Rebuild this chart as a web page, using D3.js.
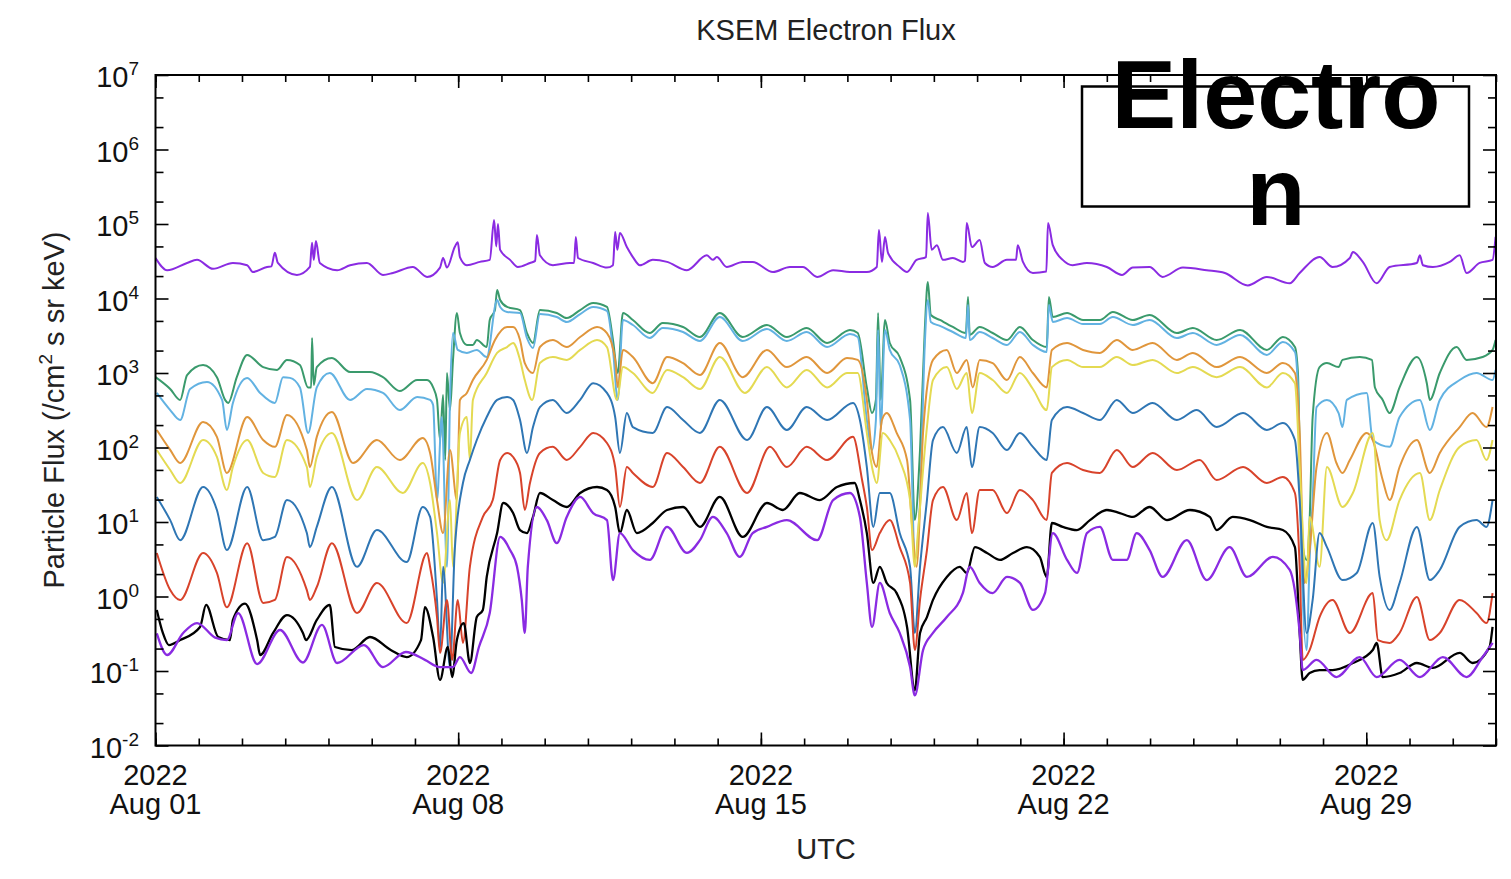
<!DOCTYPE html>
<html>
<head>
<meta charset="utf-8">
<script src="https://cdn.jsdelivr.net/npm/d3@7"></script>
<style>
  html, body { margin: 0; padding: 0; background: #fff; }
  svg { display: block; font-family: "Liberation Sans", Arial, Helvetica, sans-serif; }
</style>
</head>
<body>
<svg id="chart" width="1511" height="879"></svg>
<script>
// KSEM electron flux, August 2022. Each series: [days since 2022-08-01 00:00 UTC, flux]
const fluxCh1 = [[0,3.5e4],[0.27,2.4e4],[0.73,3.0e4],[0.96,3.3e4],[1.33,2.5e4],[1.79,3.0e4],[2.12,2.8e4],[2.25,2.27e4],[2.58,2.65e4],[2.68,2.7e4],[2.76,4.1e4],[2.83,3.0e4],[3.27,2.07e4],[3.57,2.65e4],[3.62,5.6e4],[3.66,3.3e4],[3.71,5.9e4],[3.80,3.0e4],[4.20,2.4e4],[4.50,2.8e4],[4.89,3.0e4],[5.26,2.07e4],[5.49,2.2e4],[5.95,2.65e4],[6.28,1.95e4],[6.58,2.6e4],[6.65,3.5e4],[6.74,2.6e4],[6.92,4.9e4],[6.99,5.7e4],[7.04,3.6e4],[7.20,2.8e4],[7.50,3.1e4],[7.73,3.3e4],[7.83,1.13e5],[7.88,5.0e4],[7.92,1.0e5],[7.97,4.5e4],[8.20,3.3e4],[8.38,2.65e4],[8.66,3.0e4],[8.78,3.2e4],[8.82,7.1e4],[8.89,3.8e4],[9.19,2.8e4],[9.58,3.0e4],[9.68,3.0e4],[9.72,6.7e4],[9.77,3.5e4],[10.12,3.0e4],[10.44,2.6e4],[10.58,2.8e4],[10.63,7.8e4],[10.68,4.5e4],[10.74,7.6e4],[10.90,4.9e4],[11.04,3.6e4],[11.20,2.8e4],[11.50,3.3e4],[11.83,3.1e4],[12.29,2.4e4],[12.75,3.8e4],[12.89,3.3e4],[12.98,3.6e4],[13.21,2.65e4],[13.58,3.1e4],[13.81,3.1e4],[14.28,2.27e4],[14.67,2.65e4],[14.97,2.65e4],[15.30,1.95e4],[15.67,2.4e4],[16.06,2.27e4],[16.45,2.27e4],[16.68,2.65e4],[16.73,8.3e4],[16.80,3.1e4],[16.87,6.7e4],[16.94,4.1e4],[17.21,2.65e4],[17.38,2.27e4],[17.60,3.3e4],[17.82,3.6e4],[17.86,1.4e5],[17.95,4.5e4],[18.07,5.2e4],[18.21,3.3e4],[18.44,3.5e4],[18.67,3.1e4],[18.72,3.2e4],[18.76,1.03e5],[18.88,4.9e4],[19.06,6.1e4],[19.18,3.0e4],[19.36,2.65e4],[19.69,3.3e4],[19.90,3.3e4],[19.94,5.2e4],[20.06,3.1e4],[20.29,2.2e4],[20.60,2.3e4],[20.64,1.03e5],[20.75,5.2e4],[20.98,3.3e4],[21.21,2.8e4],[21.54,3.0e4],[22.00,2.65e4],[22.35,2.07e4],[22.60,2.6e4],[22.99,2.65e4],[23.29,1.95e4],[23.76,2.6e4],[24.31,2.4e4],[24.73,2.2e4],[25.26,1.5e4],[25.70,1.95e4],[26.23,1.6e4],[26.46,2.2e4],[26.92,3.6e4],[27.22,2.65e4],[27.62,3.5e4],[27.69,4.2e4],[27.92,3.1e4],[28.24,1.6e4],[28.54,2.65e4],[29.17,3.0e4],[29.24,3.8e4],[29.31,2.8e4],[29.54,2.65e4],[29.93,3.1e4],[30.16,3.8e4],[30.32,2.2e4],[30.62,3.0e4],[30.92,3.3e4],[30.99,6.7e4]];

const fluxCh2 = [[0,880],[0.34,610],[0.57,435],[0.73,940],[1.10,1280],[1.42,880],[1.61,435],[1.68,396],[1.88,880],[2.12,1750],[2.49,1200],[2.81,1100],[3.04,1500],[3.34,1280],[3.53,640],[3.60,640],[3.62,2950],[3.66,690],[3.73,1200],[4.08,1590],[4.50,1030],[4.96,1030],[5.26,880],[5.65,573],[6.05,805],[6.28,805],[6.42,640],[6.51,435],[6.58,126],[6.65,506],[6.70,68],[6.74,1000],[6.81,318],[6.88,1500],[6.97,6400],[7.04,3440],[7.20,2380],[7.34,2380],[7.43,2770],[7.66,2230],[7.73,5150],[7.85,7000],[7.90,1.3e4],[7.97,9560],[8.13,7700],[8.43,7000],[8.59,3440],[8.73,2530],[8.89,7000],[9.28,6400],[9.51,5470],[9.82,7000],[10.12,8700],[10.44,7700],[10.58,2770],[10.69,1000],[10.81,6400],[11.04,5150],[11.43,3440],[11.73,4690],[12.20,4150],[12.59,3040],[13.05,6400],[13.58,3040],[14.14,4410],[14.60,3040],[15.06,4020],[15.53,2530],[16.06,3780],[16.24,3440],[16.45,640],[16.57,290],[16.66,435],[16.71,6400],[16.77,435],[16.87,5150],[16.98,2530],[17.21,1640],[17.45,435],[17.56,10.6],[17.68,92.7],[17.79,3780],[17.86,1.66e4],[17.93,6000],[18.14,5150],[18.44,4150],[18.74,3440],[18.79,1.05e4],[18.83,3240],[19.06,4150],[19.36,3440],[19.69,2770],[19.99,4150],[20.29,2770],[20.61,2230],[20.66,1.05e4],[20.75,5640],[21.08,6400],[21.45,5150],[21.84,5150],[22.14,6600],[22.60,5150],[22.99,6000],[23.62,3440],[23.99,4020],[24.54,2770],[25.08,3780],[25.70,2040],[26.07,3040],[26.35,2230],[26.42,1000],[26.50,7.1],[26.62,3.1],[26.69,10.6],[26.76,257],[26.92,1200],[27.09,1360],[27.36,1200],[27.45,1500],[27.85,1640],[28.13,1500],[28.20,640],[28.38,435],[28.54,290],[28.77,640],[29.17,1640],[29.40,730],[29.47,435],[29.70,1000],[30.09,2230],[30.32,1500],[30.69,1640],[30.92,2040],[30.99,2770]];

const fluxCh3 = [[0.03,540],[0.34,318],[0.57,234],[0.80,610],[1.19,760],[1.54,435],[1.65,172],[1.79,396],[2.12,860],[2.42,540],[2.76,396],[2.95,880],[3.11,860],[3.34,640],[3.53,157],[3.73,640],[4.03,1000],[4.50,435],[4.89,610],[5.26,540],[5.65,318],[6.05,477],[6.35,435],[6.42,372],[6.51,19.7],[6.62,257],[6.74,2.5],[6.81,435],[6.88,3440],[6.99,2040],[7.20,1860],[7.43,2040],[7.66,1640],[7.90,9560],[7.97,7700],[8.13,6600],[8.43,6400],[8.59,2950],[8.73,2170],[8.89,6190],[9.28,5640],[9.51,4840],[9.82,6190],[10.12,7700],[10.44,6800],[10.58,2040],[10.69,435],[10.81,5150],[11.04,4410],[11.43,2950],[11.73,4020],[12.20,3550],[12.59,2690],[13.05,5640],[13.58,2690],[14.14,3900],[14.60,2690],[15.06,3550],[15.53,2230],[16.06,3340],[16.24,3040],[16.45,234],[16.57,92.7],[16.66,234],[16.71,3780],[16.77,172],[16.87,3780],[16.98,2040],[17.21,1280],[17.45,234],[17.56,3.1],[17.68,19.7],[17.79,2380],[17.86,9560],[17.93,4840],[18.14,4280],[18.44,3550],[18.74,2950],[18.79,8190],[18.83,2770],[19.06,3550],[19.36,2950],[19.69,2380],[19.99,3550],[20.29,2380],[20.61,1910],[20.66,8190],[20.75,4840],[21.08,5470],[21.45,4550],[21.84,4550],[22.14,5640],[22.60,4410],[22.99,5150],[23.62,2950],[23.99,3440],[24.54,2380],[25.08,3240],[25.70,1750],[26.07,2610],[26.35,1910],[26.42,610],[26.50,3.1],[26.62,0.191],[26.69,3.1],[26.76,19.7],[26.85,349],[27.09,435],[27.36,290],[27.45,188],[27.55,435],[28.01,540],[28.15,126],[28.54,102],[28.77,257],[29.24,435],[29.47,172],[29.70,435],[30.16,805],[30.55,1000],[30.92,805],[30.99,1100]];

const fluxCh4 = [[0.03,172],[0.34,92.7],[0.57,61.9],[1.10,220],[1.42,139],[1.65,45.5],[2.12,257],[2.49,126],[2.76,102],[3.04,273],[3.50,92.7],[3.57,54.7],[3.73,139],[4.08,300],[4.57,61.9],[5.12,126],[5.65,68],[6.18,134],[6.35,84.5],[6.51,19.7],[6.65,7.1],[6.81,92.7],[6.97,19.7],[7.04,435],[7.20,540],[7.34,805],[7.66,1500],[7.85,2770],[8.13,4150],[8.27,4150],[8.43,2770],[8.54,1360],[8.73,1000],[8.89,2230],[9.19,2770],[9.51,2230],[9.82,3040],[10.21,4150],[10.44,3440],[10.63,1500],[10.69,640],[10.81,2040],[11.04,1640],[11.50,730],[11.83,1640],[12.20,1360],[12.59,940],[13.05,2530],[13.58,880],[14.14,2040],[14.60,1200],[15.06,1640],[15.53,1000],[15.99,1590],[16.24,1500],[16.45,435],[16.57,84.5],[16.68,54.7],[16.80,234],[16.91,290],[17.14,157],[17.38,68],[17.51,7.1],[17.60,2.5],[17.75,157],[17.98,1500],[18.30,2040],[18.53,1000],[18.76,1500],[18.90,640],[19.06,1500],[19.36,1360],[19.69,805],[19.99,1640],[20.29,1000],[20.61,640],[20.73,2040],[21.08,2530],[21.45,2040],[21.84,1860],[22.23,2770],[22.60,2040],[23.06,2530],[23.62,1500],[23.99,1860],[24.54,1200],[25.08,1640],[25.70,1000],[26.07,1360],[26.35,1000],[26.46,157],[26.57,1.52],[26.69,4.2],[26.85,54.7],[27.09,157],[27.31,61.9],[27.45,45.5],[27.62,68],[28.01,157],[28.15,126],[28.38,36.6],[28.54,19.7],[28.77,54.7],[29.17,126],[29.47,45.5],[29.70,84.5],[30.16,188],[30.46,290],[30.78,188],[30.92,349]];

const fluxCh5 = [[0.03,92.7],[0.34,49.9],[0.57,33.4],[1.10,126],[1.42,74.6],[1.65,26.9],[1.79,54.7],[2.12,126],[2.49,45.5],[2.76,40.2],[3.04,126],[3.50,54.7],[3.57,29.5],[3.73,74.6],[4.08,157],[4.66,19.7],[5.12,54.7],[5.72,24.5],[6.18,61.9],[6.35,33.4],[6.51,7.1],[6.65,1.52],[6.81,19.7],[6.88,2.5],[7.04,157],[7.20,257],[7.27,68],[7.34,435],[7.66,1000],[7.90,1860],[8.13,2230],[8.27,2530],[8.43,1500],[8.54,805],[8.71,435],[8.89,1360],[9.19,1640],[9.51,1500],[9.82,2040],[10.21,2770],[10.44,2230],[10.67,435],[10.81,1200],[11.04,1000],[11.50,540],[11.83,1100],[12.20,880],[12.59,610],[13.05,1640],[13.63,540],[14.14,1200],[14.60,640],[15.06,1100],[15.53,640],[15.99,1000],[16.24,1000],[16.45,157],[16.57,54.7],[16.68,33.4],[16.82,157],[16.98,126],[17.21,68],[17.45,19.7],[17.56,2.5],[17.63,7.1],[17.84,188],[17.98,805],[18.30,1200],[18.53,610],[18.76,1000],[18.88,290],[19.06,1000],[19.36,805],[19.69,540],[19.99,1000],[20.29,610],[20.61,318],[20.73,1200],[21.08,1500],[21.45,1200],[21.84,1200],[22.23,1640],[22.60,1280],[23.06,1500],[23.62,1000],[23.99,1200],[24.54,880],[25.08,1200],[25.70,640],[26.07,1000],[26.35,730],[26.46,54.7],[26.62,1.52],[26.69,11.7],[26.92,2.5],[27.09,54.7],[27.45,15.9],[27.69,24.5],[28.15,157],[28.31,10.6],[28.47,5.7],[28.77,19.7],[29.24,45.5],[29.47,10.6],[29.70,26.9],[30.16,102],[30.55,126],[30.78,68],[30.92,126]];

const fluxCh6 = [[0.03,21.7],[0.34,10.6],[0.57,5.7],[1.10,29.5],[1.42,14.5],[1.65,4.2],[2.12,29.5],[2.49,5.7],[2.76,6.3],[3.04,19.7],[3.50,7.1],[3.57,4.6],[3.73,8.6],[4.08,29.5],[4.66,2.5],[5.12,7.8],[5.81,2.9],[6.18,15.9],[6.35,11.7],[6.51,0.9],[6.58,0.191],[6.65,2.5],[6.81,0.113],[6.92,4.2],[7.11,33.4],[7.27,68],[7.43,126],[7.66,257],[7.90,435],[8.13,477],[8.27,435],[8.43,234],[8.59,84.5],[8.73,188],[8.89,349],[9.19,435],[9.51,290],[9.82,435],[10.12,730],[10.44,540],[10.63,257],[10.74,84.5],[10.90,290],[11.04,188],[11.50,157],[11.83,349],[12.20,234],[12.59,157],[13.05,435],[13.68,126],[14.14,349],[14.60,172],[15.06,349],[15.53,234],[16.13,396],[16.29,234],[16.45,54.7],[16.60,8.6],[16.75,24.5],[16.98,24.5],[17.21,7.1],[17.45,2.5],[17.56,0.324],[17.68,2.5],[17.84,19.7],[17.98,126],[18.21,188],[18.53,84.5],[18.76,188],[18.88,54.7],[19.06,188],[19.36,157],[19.69,92.7],[19.99,157],[20.29,102],[20.61,68],[20.73,234],[21.08,349],[21.45,290],[21.84,234],[22.23,435],[22.60,290],[23.06,396],[23.62,234],[24.08,318],[24.54,188],[25.15,290],[25.70,172],[26.07,213],[26.35,126],[26.46,19.7],[26.62,0.324],[26.76,0.9],[26.92,7.1],[27.09,4.6],[27.45,1.66],[27.78,2.07],[28.15,9.7],[28.31,1.83],[28.54,0.66],[28.77,1.52],[29.17,8.6],[29.47,1.66],[29.70,2.27],[30.16,8.6],[30.55,10.6],[30.78,8.6],[30.92,19.7]];

const fluxCh7 = [[0.03,3.84],[0.34,1.22],[0.57,0.9],[1.10,3.84],[1.42,2.07],[1.65,0.72],[2.12,5.2],[2.49,0.82],[2.76,0.9],[3.04,3.4],[3.50,1.22],[3.57,0.9],[3.73,1.34],[4.08,5.2],[4.66,0.6],[5.12,1.52],[5.81,0.44],[6.28,3.84],[6.35,2.5],[6.51,0.53],[6.58,0.175],[6.74,0.9],[6.86,0.141],[6.99,0.9],[7.11,0.238],[7.27,2.5],[7.57,11.7],[7.80,19.7],[7.97,68],[8.13,84.5],[8.27,74.6],[8.43,45.5],[8.54,14.5],[8.66,33.4],[8.89,84.5],[9.19,102],[9.51,68],[9.82,102],[10.12,157],[10.44,115],[10.63,54.7],[10.74,15.9],[10.90,54.7],[11.04,45.5],[11.50,29.5],[11.83,84.5],[12.20,54.7],[12.59,33.4],[13.05,102],[13.68,24.5],[14.21,102],[14.60,54.7],[15.06,102],[15.53,68],[16.13,139],[16.34,36.6],[16.45,15.9],[16.57,4.2],[16.75,7.1],[16.98,10.6],[17.21,4.6],[17.45,1.52],[17.56,0.191],[17.68,0.9],[17.84,4.2],[17.98,19.7],[18.21,29.5],[18.53,10.6],[18.76,24.5],[18.88,7.1],[19.06,26.9],[19.36,26.9],[19.69,13.2],[19.99,26.9],[20.29,19.7],[20.61,10.6],[20.73,45.5],[21.08,61.9],[21.45,49.9],[21.84,45.5],[22.23,92.7],[22.60,54.7],[23.06,84.5],[23.62,49.9],[24.15,68],[24.54,36.6],[25.15,54.7],[25.70,33.4],[26.07,40.2],[26.35,24.5],[26.46,2.5],[26.53,0.141],[26.69,0.191],[26.92,0.53],[27.22,0.9],[27.62,0.324],[28.15,1.11],[28.27,0.26],[28.54,0.238],[28.77,0.324],[29.17,0.986],[29.47,0.26],[29.70,0.324],[30.16,0.9],[30.55,0.6],[30.78,0.44],[30.92,1.11]];

const fluxCh8 = [[0.03,0.66],[0.17,0.324],[0.31,0.223],[0.57,0.26],[1.03,0.39],[1.17,0.77],[1.45,0.286],[1.72,0.26],[1.79,0.484],[2.07,0.8],[2.35,0.26],[2.42,0.164],[2.72,0.324],[3.04,0.564],[3.41,0.324],[3.48,0.26],[3.73,0.484],[4.03,0.77],[4.15,0.21],[4.54,0.191],[4.96,0.286],[5.44,0.191],[5.81,0.154],[6.14,0.26],[6.23,0.72],[6.42,0.286],[6.58,0.076],[6.76,0.21],[6.86,0.083],[6.97,0.26],[7.13,0.44],[7.27,0.128],[7.43,0.53],[7.57,0.66],[7.66,1.83],[7.90,7.1],[8.04,18],[8.27,13.2],[8.43,7.8],[8.59,7.1],[8.73,11.7],[8.89,24.5],[9.19,19.7],[9.51,15.9],[9.82,24.5],[10.21,29.5],[10.44,26.9],[10.63,15.9],[10.74,7.1],[10.90,14.5],[11.13,7.1],[11.50,9.7],[11.83,14.5],[12.20,15.9],[12.59,8.6],[13.05,21.7],[13.58,6.3],[14.14,18],[14.51,14.5],[14.90,24.5],[15.36,19.7],[15.76,29.5],[16.17,33.4],[16.29,19.7],[16.45,7.1],[16.60,1.52],[16.75,2.5],[16.91,1.52],[17.14,1.11],[17.38,0.39],[17.56,0.055],[17.68,0.324],[17.84,0.53],[17.98,0.9],[18.30,1.83],[18.60,2.5],[18.76,2.07],[18.95,4.6],[19.23,3.84],[19.53,3.1],[19.83,3.84],[20.15,4.6],[20.45,3.4],[20.61,1.83],[20.73,9.7],[20.98,8.6],[21.31,7.8],[21.61,10.6],[22.00,14.5],[22.30,13.2],[22.60,11.7],[22.99,15.9],[23.39,10.6],[23.92,14.5],[24.38,11.7],[24.54,7.8],[24.91,11.7],[25.31,10.6],[25.70,8.6],[26.07,7.8],[26.35,4.6],[26.46,0.324],[26.53,0.076],[26.69,0.094],[26.92,0.103],[27.22,0.103],[27.69,0.128],[28.15,0.191],[28.24,0.238],[28.38,0.083],[28.77,0.094],[29.17,0.128],[29.54,0.11],[30.16,0.175],[30.46,0.128],[30.85,0.21],[30.92,0.39]];

const fluxCh9 = [[0.03,0.32],[0.27,0.164],[0.64,0.324],[0.96,0.44],[1.38,0.28],[1.65,0.26],[1.91,0.6],[2.35,0.124],[2.88,0.355],[3.41,0.13],[3.85,0.415],[4.20,0.128],[4.82,0.223],[5.26,0.113],[5.79,0.18],[6.23,0.141],[6.58,0.113],[6.88,0.113],[7.04,0.154],[7.30,0.094],[7.48,0.21],[7.73,0.6],[7.97,6.3],[8.20,4.2],[8.36,2.5],[8.47,0.9],[8.54,0.324],[8.61,2.5],[8.82,15.9],[9.05,10.6],[9.28,5.2],[9.51,11.7],[9.82,21.7],[10.12,13.2],[10.44,10.6],[10.58,1.66],[10.74,7.1],[11.04,4.2],[11.43,3.1],[11.83,8.6],[12.29,3.84],[12.59,5.7],[12.89,11.7],[13.21,7.1],[13.51,3.4],[13.81,7.1],[14.14,8.6],[14.60,10.6],[15.30,5.7],[15.67,19.7],[16.06,24.5],[16.29,11.7],[16.45,1.52],[16.57,0.39],[16.75,1.52],[16.98,0.6],[17.21,0.324],[17.45,0.113],[17.56,0.047],[17.75,0.191],[17.98,0.324],[18.30,0.53],[18.67,1.11],[18.83,2.5],[19.06,1.52],[19.36,1.11],[19.69,1.83],[19.99,1.52],[20.29,0.66],[20.57,1.11],[20.75,7.1],[21.08,3.1],[21.31,2.07],[21.54,7.1],[21.84,8.6],[22.14,3.1],[22.46,3.1],[22.69,7.1],[22.99,4.2],[23.29,1.83],[23.85,5.7],[24.31,1.66],[24.84,4.6],[25.24,1.83],[25.84,3.4],[26.23,2.27],[26.46,0.324],[26.53,0.103],[26.85,0.141],[27.31,0.083],[27.85,0.154],[28.24,0.083],[28.77,0.141],[29.24,0.083],[29.77,0.154],[30.32,0.083],[30.69,0.154],[30.92,0.238]];

const channelColors = ["#8a2be2", "#3a9a6c", "#62b2e2", "#e0963c", "#e4da52", "#2f76b4", "#d8432b", "#000000", "#8a2be2"];
const channelWidths = [2, 2, 2, 2, 2, 2, 2, 2.3, 2.3];
const channels = [fluxCh1, fluxCh2, fluxCh3, fluxCh4, fluxCh5, fluxCh6, fluxCh7, fluxCh8, fluxCh9];

const yDecades = [1e-2, 1e-1, 1e0, 1e1, 1e2, 1e3, 1e4, 1e5, 1e6, 1e7];
const titleText = "KSEM Electron Flux";
const xLabelText = "UTC";
const boxLines = ["Electro", "n"];

const START = Date.UTC(2022, 7, 1);
const END = Date.UTC(2022, 8, 1);
const DAY_MS = 864e5;

const plot = { left: 155.5, right: 1496, top: 75, bottom: 745.5 };
const FONT = 29;
const SUP = 19;

const svg = d3.select("#chart");
svg.append("rect").attr("width", 1511).attr("height", 879).attr("fill", "#fff");

const x = d3.scaleUtc().domain([new Date(START), new Date(END)]).range([plot.left, plot.right]);
const y = d3.scaleLog().domain([1e-2, 1e7]).range([plot.bottom, plot.top]);

svg.append("clipPath").attr("id", "plot-clip")
  .append("rect")
  .attr("x", plot.left).attr("y", plot.top)
  .attr("width", plot.right - plot.left).attr("height", plot.bottom - plot.top);

const line = d3.line()
  .curve(d3.curveMonotoneX)
  .x(d => x(new Date(START + d[0] * DAY_MS)))
  .y(d => y(d[1]));

const lines = svg.append("g").attr("clip-path", "url(#plot-clip)");
channels.forEach((values, i) => {
  lines.append("path")
    .attr("d", line(values))
    .attr("fill", "none")
    .attr("stroke", channelColors[i])
    .attr("stroke-width", channelWidths[i])
    .attr("stroke-linejoin", "round");
});

// Axes: ticks drawn inward on all four sides
const yMinor = yDecades.slice(0, -1).flatMap(d => [2 * d, 5 * d]);
const dayTicks = d3.utcDay.range(new Date(START), new Date(END + 1));
const weekTicks = d3.utcDay.every(7).range(new Date(START), new Date(END));

function styleAxis(g) {
  g.select(".domain").remove();
  g.selectAll(".tick line").attr("stroke", "#000").attr("stroke-width", 1.6);
  g.selectAll(".tick text").remove();
}

svg.append("g").attr("transform", `translate(${plot.left},0)`)
  .call(d3.axisLeft(y).tickValues(yDecades).tickSize(-13)).call(styleAxis);
svg.append("g").attr("transform", `translate(${plot.left},0)`)
  .call(d3.axisLeft(y).tickValues(yMinor).tickSize(-8)).call(styleAxis);
svg.append("g").attr("transform", `translate(${plot.right},0)`)
  .call(d3.axisRight(y).tickValues(yDecades).tickSize(-13)).call(styleAxis);
svg.append("g").attr("transform", `translate(${plot.right},0)`)
  .call(d3.axisRight(y).tickValues(yMinor).tickSize(-8)).call(styleAxis);

svg.append("g").attr("transform", `translate(0,${plot.bottom})`)
  .call(d3.axisBottom(x).tickValues(dayTicks).tickSize(-7)).call(styleAxis);
svg.append("g").attr("transform", `translate(0,${plot.bottom})`)
  .call(d3.axisBottom(x).tickValues(weekTicks).tickSize(-13)).call(styleAxis);
svg.append("g").attr("transform", `translate(0,${plot.top})`)
  .call(d3.axisTop(x).tickValues(dayTicks).tickSize(-7)).call(styleAxis);
svg.append("g").attr("transform", `translate(0,${plot.top})`)
  .call(d3.axisTop(x).tickValues(weekTicks).tickSize(-13)).call(styleAxis);

svg.append("rect")
  .attr("x", plot.left).attr("y", plot.top)
  .attr("width", plot.right - plot.left).attr("height", plot.bottom - plot.top)
  .attr("fill", "none").attr("stroke", "#000").attr("stroke-width", 2);

// Y tick labels as powers of ten
const yLabels = svg.append("g").attr("fill", "#111");
yDecades.forEach(v => {
  const t = yLabels.append("text")
    .attr("x", 139).attr("y", y(v) + 12)
    .attr("text-anchor", "end")
    .attr("font-size", FONT);
  t.append("tspan").text("10");
  t.append("tspan").attr("dy", -12).attr("font-size", SUP).text(String(Math.round(Math.log10(v))));
});

// X tick labels: year over month/day
const fmtYear = d3.utcFormat("%Y");
const fmtDay = d3.utcFormat("%b %d");
const xLabels = svg.append("g").attr("fill", "#111").attr("font-size", FONT).attr("text-anchor", "middle");
weekTicks.forEach(d => {
  xLabels.append("text").attr("x", x(d)).attr("y", 785).text(fmtYear(d));
  xLabels.append("text").attr("x", x(d)).attr("y", 814).text(fmtDay(d));
});

// Titles
svg.append("text")
  .attr("x", 826).attr("y", 40)
  .attr("text-anchor", "middle").attr("font-size", FONT).attr("fill", "#222")
  .text(titleText);

svg.append("text")
  .attr("x", 826).attr("y", 859)
  .attr("text-anchor", "middle").attr("font-size", FONT).attr("fill", "#222")
  .text(xLabelText);

const yTitle = svg.append("text")
  .attr("transform", "translate(64,410) rotate(-90)")
  .attr("text-anchor", "middle").attr("font-size", FONT).attr("fill", "#222");
yTitle.append("tspan").text("Particle Flux (/cm");
yTitle.append("tspan").attr("dy", -12).attr("font-size", SUP).text("2");
yTitle.append("tspan").attr("dy", 12).text(" s sr keV)");

// Label box
svg.append("rect")
  .attr("x", 1082).attr("y", 86.5).attr("width", 387).attr("height", 120)
  .attr("fill", "#fff").attr("stroke", "#000").attr("stroke-width", 2.5);

const boxText = svg.append("text")
  .attr("text-anchor", "middle").attr("font-size", 97).attr("font-weight", 700).attr("fill", "#000");
boxLines.forEach((s, i) => {
  boxText.append("tspan").attr("x", 1276).attr("y", 128 + i * 97).text(s);
});
</script>
</body>
</html>
